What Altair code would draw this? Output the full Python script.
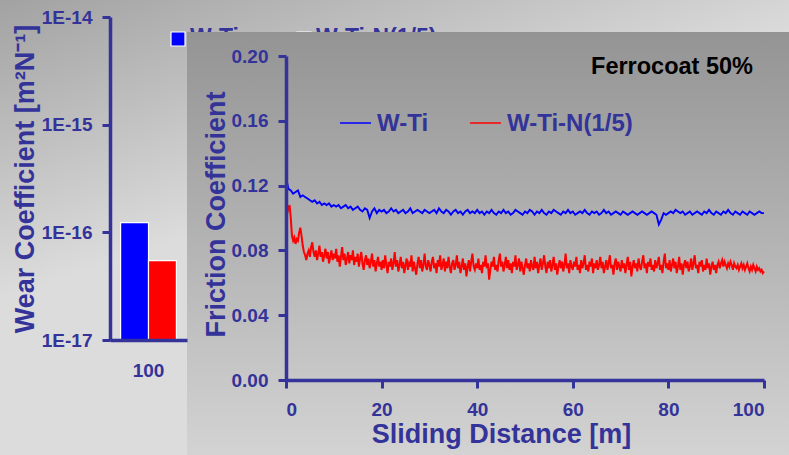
import altair as alt
import pandas as pd

FONT = "Liberation Sans"
AX = "#333399"

# ---------------- data ----------------
series = ["W-Ti", "W-Ti-N(1/5)"]
colors = ["#0000ff", "#ff0000"]
line_widths = [1.9, 2.0]
load_cat = ["100"]
wear_coef = [1.23e-16, 5.45e-17]
wear_ticks = [1e-17, 1e-16, 1e-15, 1e-14]

friction_ticks = [0.0, 0.04, 0.08, 0.12, 0.16, 0.20]
distance_ticks = [0, 20, 40, 60, 80, 100]

# W-Ti friction coefficient, sampled every 0.5 m from 0 to 100 m
friction_wti = [
    0.125, 0.118, 0.117, 0.115, 0.116, 0.117, 0.113, 0.114, 0.113, 0.112, 0.111, 0.110, 0.111, 0.109, 0.110, 0.108, 0.109, 0.108, 0.109, 0.107, 0.108,
    0.107, 0.108, 0.106, 0.107, 0.108, 0.106, 0.107, 0.105, 0.106, 0.107, 0.105, 0.104, 0.106, 0.105, 0.100, 0.104, 0.106, 0.103, 0.105, 0.104,
    0.105, 0.103, 0.104, 0.106, 0.104, 0.105, 0.103, 0.104, 0.105, 0.103, 0.104, 0.106, 0.103, 0.104, 0.105, 0.104, 0.103, 0.105, 0.104, 0.103,
    0.104, 0.105, 0.103, 0.106, 0.104, 0.103, 0.105, 0.104, 0.102, 0.104, 0.105, 0.103, 0.104, 0.102, 0.104, 0.105, 0.103, 0.104, 0.103, 0.105,
    0.103, 0.104, 0.102, 0.104, 0.103, 0.105, 0.103, 0.102, 0.104, 0.103, 0.105, 0.103, 0.104, 0.102, 0.103, 0.105, 0.104, 0.103, 0.102, 0.104,
    0.103, 0.105, 0.104, 0.102, 0.104, 0.103, 0.105, 0.103, 0.102, 0.104, 0.103, 0.105, 0.104, 0.103, 0.102, 0.104, 0.103, 0.105, 0.103, 0.104,
    0.102, 0.103, 0.104, 0.103, 0.105, 0.103, 0.102, 0.104, 0.103, 0.104, 0.102, 0.103, 0.105, 0.103, 0.104, 0.102, 0.103, 0.104, 0.103, 0.102,
    0.104, 0.103, 0.102, 0.103, 0.104, 0.103, 0.102, 0.103, 0.104, 0.103, 0.102, 0.103, 0.104, 0.103, 0.102, 0.096, 0.099, 0.103, 0.102, 0.103,
    0.104, 0.103, 0.105, 0.104, 0.103, 0.104, 0.102, 0.103, 0.104, 0.102, 0.103, 0.104, 0.103, 0.102, 0.104, 0.103, 0.105, 0.103, 0.102, 0.104,
    0.103, 0.102, 0.104, 0.103, 0.105, 0.103, 0.102, 0.104, 0.103, 0.102, 0.104, 0.103, 0.102, 0.104, 0.103, 0.102, 0.103, 0.104, 0.103, 0.103,
]

# W-Ti-N(1/5) friction coefficient, sampled every 0.25 m from 0 to 100 m
friction_wtin = [
    0.107,
    0.103, 0.106, 0.108, 0.100, 0.089, 0.086, 0.088, 0.084, 0.087, 0.086, 0.091, 0.094, 0.089, 0.083, 0.079, 0.077, 0.074, 0.078, 0.080, 0.076,
    0.082, 0.085, 0.079, 0.076, 0.080, 0.074, 0.078, 0.083, 0.076, 0.079, 0.073, 0.077, 0.081, 0.075, 0.079, 0.072, 0.076, 0.080, 0.074, 0.078,
    0.075, 0.081, 0.073, 0.077, 0.070, 0.076, 0.082, 0.074, 0.078, 0.071, 0.075, 0.079, 0.072, 0.077, 0.074, 0.080, 0.071, 0.076, 0.073, 0.078,
    0.070, 0.075, 0.079, 0.072, 0.068, 0.074, 0.077, 0.071, 0.075, 0.069, 0.073, 0.078, 0.070, 0.074, 0.067, 0.072, 0.076, 0.070, 0.073, 0.068,
    0.074, 0.069, 0.077, 0.071, 0.066, 0.073, 0.070, 0.075, 0.068, 0.072, 0.079, 0.070, 0.074, 0.067, 0.071, 0.076, 0.069, 0.073, 0.066, 0.071,
    0.075, 0.068, 0.072, 0.070, 0.077, 0.067, 0.073, 0.069, 0.065, 0.072, 0.076, 0.069, 0.074, 0.067, 0.071, 0.078, 0.070, 0.068, 0.074, 0.071,
    0.067, 0.073, 0.076, 0.069, 0.072, 0.066, 0.074, 0.070, 0.077, 0.068, 0.071, 0.075, 0.067, 0.073, 0.069, 0.076, 0.070, 0.066, 0.072, 0.074,
    0.068, 0.071, 0.077, 0.069, 0.073, 0.066, 0.070, 0.075, 0.068, 0.072, 0.064, 0.070, 0.074, 0.067, 0.073, 0.078, 0.070, 0.068, 0.072, 0.069,
    0.075, 0.068, 0.071, 0.066, 0.073, 0.070, 0.077, 0.069, 0.072, 0.062, 0.068, 0.073, 0.070, 0.076, 0.068, 0.071, 0.067, 0.074, 0.078, 0.070,
    0.073, 0.067, 0.071, 0.076, 0.069, 0.074, 0.068, 0.072, 0.066, 0.073, 0.070, 0.077, 0.068, 0.071, 0.075, 0.067, 0.073, 0.069, 0.065, 0.071,
    0.075, 0.069, 0.072, 0.067, 0.074, 0.070, 0.068, 0.076, 0.069, 0.073, 0.066, 0.071, 0.075, 0.068, 0.072, 0.077, 0.070, 0.066, 0.073, 0.069,
    0.074, 0.067, 0.071, 0.076, 0.068, 0.072, 0.065, 0.070, 0.074, 0.069, 0.073, 0.067, 0.071, 0.078, 0.069, 0.072, 0.066, 0.074, 0.070, 0.068,
    0.073, 0.070, 0.076, 0.068, 0.071, 0.066, 0.074, 0.069, 0.072, 0.077, 0.068, 0.071, 0.067, 0.073, 0.070, 0.075, 0.066, 0.072, 0.069, 0.074,
    0.068, 0.071, 0.076, 0.069, 0.073, 0.066, 0.070, 0.074, 0.068, 0.072, 0.077, 0.069, 0.071, 0.065, 0.072, 0.075, 0.068, 0.073, 0.070, 0.067,
    0.074, 0.069, 0.072, 0.066, 0.071, 0.076, 0.068, 0.073, 0.064, 0.070, 0.074, 0.069, 0.072, 0.067, 0.075, 0.070, 0.068, 0.073, 0.077, 0.069,
    0.072, 0.066, 0.073, 0.070, 0.075, 0.068, 0.071, 0.067, 0.074, 0.069, 0.072, 0.076, 0.068, 0.071, 0.066, 0.073, 0.078, 0.069, 0.072, 0.068,
    0.074, 0.067, 0.071, 0.075, 0.069, 0.073, 0.066, 0.070, 0.076, 0.068, 0.072, 0.065, 0.071, 0.074, 0.069, 0.073, 0.067, 0.070, 0.075, 0.068,
    0.072, 0.077, 0.069, 0.071, 0.066, 0.073, 0.070, 0.074, 0.067, 0.071, 0.068, 0.075, 0.069, 0.072, 0.065, 0.070, 0.073, 0.068, 0.071, 0.066,
    0.071, 0.073, 0.069, 0.072, 0.074, 0.070, 0.073, 0.071, 0.069, 0.072, 0.070, 0.073, 0.071, 0.068, 0.072, 0.070, 0.069, 0.071, 0.068, 0.070,
    0.072, 0.069, 0.071, 0.068, 0.070, 0.072, 0.069, 0.067, 0.070, 0.068, 0.071, 0.069, 0.067, 0.070, 0.068, 0.069, 0.067, 0.068, 0.066, 0.067,
]

dist_wti = [i * 0.5 for i in range(len(friction_wti))]
dist_wtin = [i * 0.25 for i in range(len(friction_wtin))]

# ---------------- tables ----------------
bar_df = pd.DataFrame({"load": load_cat * len(series), "series": series, "coef": wear_coef})
leg_df = pd.DataFrame({"series": series})
line_df = pd.DataFrame({
    "distance": dist_wti + dist_wtin,
    "series": [series[0]] * len(friction_wti) + [series[1]] * len(friction_wtin),
    "friction": friction_wti + friction_wtin,
})
one = pd.DataFrame({"a": [0]})

outer_grad = alt.LinearGradient(
    gradient="linear",
    stops=[alt.GradientStop(color="#a2a2a2", offset=0), alt.GradientStop(color="#dcdcdc", offset=1)],
    x1=0, y1=0, x2=0.285, y2=0.495,
)
inset_grad = alt.LinearGradient(
    gradient="linear",
    stops=[alt.GradientStop(color="#949494", offset=0), alt.GradientStop(color="#d3d3d3", offset=1)],
    x1=0, y1=0, x2=0, y2=1,
)

axis_style = dict(
    labelFont=FONT, labelFontSize=19, labelFontWeight="bold", labelColor=AX,
    titleFont=FONT, titleFontSize=27, titleFontWeight="bold", titleColor=AX,
    domainColor=AX, domainWidth=3.5, tickColor=AX, tickWidth=3,
    grid=False, zindex=1,
)

color_fill = alt.Fill("series:N", scale=alt.Scale(domain=series, range=colors), legend=None)
color_stroke = alt.Stroke("series:N", scale=alt.Scale(domain=series, range=colors), legend=None)

# ---------------- outer background ----------------
outer_bg = alt.Chart(one).mark_rect(fill=outer_grad).encode(
    x=alt.value(0), x2=alt.value(789), y=alt.value(0), y2=alt.value(455)
)

# ---------------- wear-coefficient bars (background panel) ----------------
bars = alt.Chart(bar_df).mark_bar(stroke="white", strokeWidth=1.2).encode(
    x=alt.X("load:N",
            scale=alt.Scale(domain=load_cat, range=[110, 187], paddingInner=0, paddingOuter=0.19),
            axis=alt.Axis(orient="bottom", offset=-115, ticks=False, labelPadding=21, labelAngle=0,
                          title=None, **axis_style)),
    xOffset=alt.XOffset("series:N", scale=alt.Scale(domain=series, paddingInner=0, paddingOuter=0)),
    y=alt.Y("coef:Q",
            scale=alt.Scale(type="log", domain=[1e-17, 1e-14], range=[340, 17]),
            axis=alt.Axis(orient="left", offset=-110, values=wear_ticks, tickSize=8,
                          labelExpr="'1E' + round(log(datum.value)/LN10)",
                          labelPadding=10, titlePadding=2,
                          title="Wear Coefficient [m²N⁻¹]", **axis_style)),
    y2=alt.datum(1e-17),
    fill=color_fill,
)

bar_leg_x = alt.X("series:N", scale=alt.Scale(type="point", domain=series, range=[178, 304], padding=0), axis=None)
bar_leg_sq = alt.Chart(leg_df).mark_square(size=196, opacity=1, stroke="white", strokeWidth=1.2).encode(
    x=bar_leg_x, y=alt.value(39), fill=color_fill,
)
bar_leg_txt = alt.Chart(leg_df).mark_text(
    align="left", baseline="middle", dx=12, dy=-1, font=FONT, fontSize=23, fontWeight="bold", color=AX
).encode(x=bar_leg_x, y=alt.value(39), text="series:N")

# ---------------- inset panel ----------------
inset_bg = alt.Chart(one).mark_rect(fill=inset_grad).encode(
    x=alt.value(187), x2=alt.value(789), y=alt.value(32), y2=alt.value(455)
)

lines = alt.Chart(line_df).mark_line().encode(
    x=alt.X("distance:Q",
            scale=alt.Scale(domain=[0, 100], range=[286, 764], nice=False, zero=False),
            axis=alt.Axis(orient="bottom", offset=-75, values=distance_ticks, format="d", tickSize=8,
                          labelPadding=12, titlePadding=2, titleX=501, title="Sliding Distance [m]",
                          **axis_style)),
    y=alt.Y("friction:Q",
            scale=alt.Scale(domain=[0, 0.2], range=[380, 56], nice=False),
            axis=alt.Axis(orient="left", offset=-286, values=friction_ticks, format=".2f", tickSize=8,
                          labelPadding=10, titlePadding=1, titleY=214, title="Friction Coefficient",
                          **axis_style)),
    stroke=color_stroke,
    strokeWidth=alt.StrokeWidth("series:N", scale=alt.Scale(domain=series, range=line_widths), legend=None),
)

line_leg_x = alt.X("series:N", scale=alt.Scale(type="point", domain=series, range=[355.5, 485.5], padding=0), axis=None)
line_leg_sym = alt.Chart(leg_df).mark_point(shape="stroke", size=961, strokeWidth=1.5, opacity=1).encode(
    x=line_leg_x, y=alt.value(123), stroke=color_stroke,
)
line_leg_txt = alt.Chart(leg_df).mark_text(
    align="left", baseline="middle", dx=21.5, dy=1, font=FONT, fontSize=24, fontWeight="bold", color=AX
).encode(x=line_leg_x, y=alt.value(123), text="series:N")

ferro = alt.Chart(one).mark_text(
    text="Ferrocoat 50%", align="right", baseline="middle", font=FONT, fontSize=23.5,
    fontWeight="bold", color="black"
).encode(x=alt.value(753), y=alt.value(67))

chart = alt.layer(
    outer_bg, bars, bar_leg_sq, bar_leg_txt, inset_bg, lines, line_leg_sym, line_leg_txt, ferro
).resolve_scale(
    x="independent", y="independent"
).properties(
    width=789, height=455, padding=0, autosize=alt.AutoSizeParams(type="none"),
    background="#c8c8c8",
).configure_view(stroke=None)

chart.save("out.html", embed_options={"renderer": "svg", "actions": False})
